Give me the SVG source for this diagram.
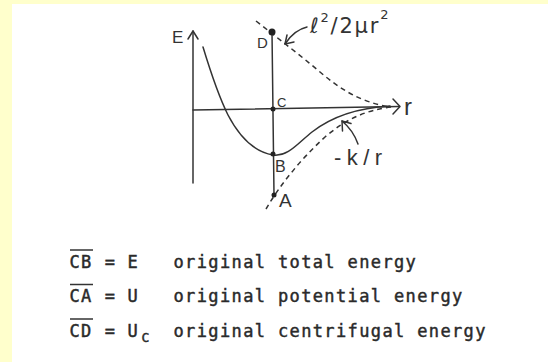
<svg xmlns="http://www.w3.org/2000/svg" width="548" height="362" viewBox="0 0 548 362">
<style>
.ln{fill:none;stroke:#333;stroke-width:1.5;stroke-linecap:round;stroke-linejoin:round}
.ds{fill:none;stroke:#333;stroke-width:1.5;stroke-dasharray:5 4}
.dot{fill:#222}
.hl{font-family:"Liberation Sans","DejaVu Sans",sans-serif;fill:#333}
.mono{font-family:"DejaVu Sans Mono","Liberation Mono",monospace;font-size:17px;letter-spacing:1.37px;fill:#2a2a2a;stroke:#2a2a2a;stroke-width:0.45px}
.ov{stroke:#333;stroke-width:1.5}
</style>
<rect x="0" y="0" width="548" height="362" fill="#ffffff"/>
<rect x="0" y="0" width="548" height="4" fill="#ffffcc"/>
<rect x="0" y="0" width="12" height="362" fill="#ffffcc"/>

<g id="axes">
<path class="ln" d="M193,183 L193,31"/>
<path class="ln" d="M188,39 L193,31 L198,39"/>
<path class="ln" d="M193,110 L399,106.5"/>
<path class="ln" d="M393,99 L400,106.5 L393,114"/>
<path class="ln" d="M272,32 L274,195"/>
</g>

<g id="curves">
<path id="effective" class="ln" d="M203,47 C210,70 218,95 228,115 C240,138 255,152 273,155 C288,157 298,143 312,132 C330,118 355,108 390,106"/>
<path id="centrifugal" class="ds" d="M256,21 C280,40 300,55 320,72 C340,89 360,102 390,107"/>
<path id="coulomb" class="ds" d="M266,209 C280,185 300,160 325,137 C345,120 365,110 392,107"/>
</g>

<g id="connectors">
<path class="ln" d="M307,27 Q294,30 285,44"/>
<path class="ln" d="M287,35 L285,44 L294,42"/>
<path class="ln" d="M358,144 Q353,130 342,121"/>
<path class="ln" d="M342.5,131 L342,121 L351,123.5"/>
</g>

<g id="D"><circle class="dot" cx="272" cy="32" r="3.5"/><text class="hl" x="257" y="48" font-size="15">D</text></g>
<g id="C"><circle class="dot" cx="273" cy="109" r="2.5"/><text class="hl" x="277" y="107" font-size="13">C</text></g>
<g id="B"><circle class="dot" cx="273" cy="154" r="2.5"/><text class="hl" x="275" y="172" font-size="16">B</text></g>
<g id="A"><circle class="dot" cx="274" cy="195" r="2.5"/><text class="hl" x="279" y="207" font-size="19">A</text></g>

<g id="labels">
<text class="hl" x="172" y="43" font-size="17">E</text>
<text class="hl" x="404" y="115" font-size="24">r</text>
<text class="hl" x="334" y="165" font-size="22" textLength="48" lengthAdjust="spacing">-k/r</text>
<text x="310" y="33" font-family="DejaVu Sans,sans-serif" font-size="21" letter-spacing="1.8" fill="#333">ℓ<tspan font-size="13" dy="-11">2</tspan><tspan dy="11">/2μr</tspan><tspan font-size="13" dy="-14">2</tspan></text>
</g>

<g id="legend">
<line class="ov" x1="70" y1="250" x2="93" y2="250"/>
<text class="mono" x="69.5" y="268">CB</text>
<text class="mono" x="104.8" y="268">=</text>
<text class="mono" x="127.5" y="268">E</text>
<text class="mono" x="173.5" y="268">original total energy</text>

<line class="ov" x1="70" y1="284.5" x2="93" y2="284.5"/>
<text class="mono" x="69.5" y="302">CA</text>
<text class="mono" x="104.8" y="302">=</text>
<text class="mono" x="127.5" y="302">U</text>
<text class="mono" x="173.5" y="302">original potential energy</text>

<line class="ov" x1="70" y1="319" x2="93" y2="319"/>
<text class="mono" x="69.5" y="337">CD</text>
<text class="mono" x="104.8" y="337">=</text>
<text class="mono" x="127.5" y="337">U</text>
<text class="mono" x="141.5" y="342" style="font-size:13px">C</text>
<text class="mono" x="173.5" y="337">original centrifugal energy</text>
</g>
</svg>
